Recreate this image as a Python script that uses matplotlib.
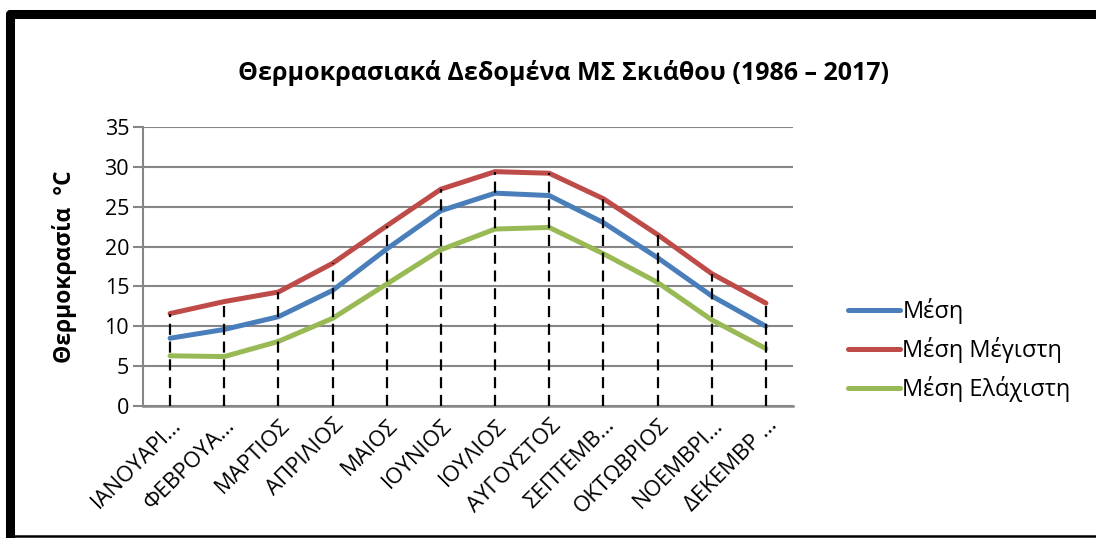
import matplotlib
matplotlib.use('Agg')
import matplotlib.pyplot as plt
from matplotlib.lines import Line2D
from matplotlib.transforms import ScaledTranslation

plt.rcParams['font.family'] = ['Open Sans', 'DejaVu Sans']

# monthly temperature data (deg C), Skiathos 1986-2017
months = ['ΙΑΝΟΥΑΡΙ…', 'ΦΕΒΡΟΥΑ…', 'ΜΑΡΤΙΟΣ', 'ΑΠΡΙΛΙΟΣ', 'ΜΑΙΟΣ', 'ΙΟΥΝΙΟΣ',
          'ΙΟΥΛΙΟΣ', 'ΑΥΓΟΥΣΤΟΣ', 'ΣΕΠΤΕΜΒ…', 'ΟΚΤΩΒΡΙΟΣ', 'ΝΟΕΜΒΡΙ…', 'ΔΕΚΕΜΒΡ …']
t_mean = [8.5, 9.6, 11.2, 14.5, 19.7, 24.5, 26.7, 26.4, 23.0, 18.6, 13.8, 10.0]
t_max = [11.6, 13.1, 14.3, 17.9, 22.6, 27.2, 29.4, 29.2, 26.0, 21.5, 16.6, 12.9]
t_min = [6.3, 6.2, 8.1, 11.0, 15.3, 19.6, 22.2, 22.4, 19.1, 15.5, 10.8, 7.2]
labels = ['Μέση', 'Μέση Μέγιστη', 'Μέση Ελάχιστη']
colors = ['#4A7EBB', '#BE4B48', '#98B954']

fig = plt.figure(figsize=(10.96, 5.38), dpi=100)
ax = fig.add_axes([143/1096, 1-406/538, 650/1096, 279/538])

x = list(range(len(months)))
for vals, lab, col in zip([t_mean, t_max, t_min], labels, colors):
    ax.plot(x, vals, color=col, lw=3.6, label=lab, solid_capstyle='round', zorder=3)

# drop lines from the highest series to the axis
ax.vlines(x, 0, t_max, colors='black', linestyles=(0, (5, 3)), lw=1.6, zorder=4)

ax.set_xlim(-0.5, len(months) - 0.5)
ax.set_ylim(0, 35)
ax.set_yticks(range(0, 36, 5))
ax.yaxis.grid(True, color='#868686', lw=1.5)
ax.set_axisbelow(True)
for s in ['top', 'right']:
    ax.spines[s].set_visible(False)
ax.spines['left'].set_color('#868686')
ax.spines['left'].set_linewidth(1.5)
ax.spines['bottom'].set_color('#868686')
ax.spines['bottom'].set_linewidth(1.8)
ax.tick_params(axis='y', length=7, width=1.5, color='#868686', labelsize=15.5, pad=3)
ax.tick_params(axis='x', length=0, labelsize=16, pad=6)
ax.set_xticks(x)
ax.set_xticklabels(months, rotation=45, ha='right', va='center', rotation_mode='anchor')
shift = ScaledTranslation(8/100, -8/100, fig.dpi_scale_trans)
for t in ax.get_xticklabels():
    t.set_transform(t.get_transform() + shift)

ax.set_ylabel('Θερμοκρασία  °C', fontsize=16.5, fontweight='bold', labelpad=20)
fig.text(563/1096, 1-73/538, 'Θερμοκρασιακά Δεδομένα ΜΣ Σκιάθου (1986 – 2017)',
         ha='center', va='center', fontsize=18, fontweight='bold')

ax.legend(loc='center left', bbox_to_anchor=(848/1096, 1-350/538), bbox_transform=fig.transFigure,
          frameon=False, fontsize=17, handlelength=2.2, handletextpad=0.1,
          labelspacing=0.55, borderaxespad=0, borderpad=0)

# outer frame
fig.add_artist(Line2D([9.5/1096, 9.5/1096], [0, 1-14/538], transform=fig.transFigure,
                      color='black', lw=6.5, solid_capstyle='round'))
fig.add_artist(Line2D([9.5/1096, 1.0], [1-14/538, 1-14/538], transform=fig.transFigure,
                      color='black', lw=6.5, solid_capstyle='round'))
fig.add_artist(Line2D([9.5/1096, 1.0], [1-536/538, 1-536/538], transform=fig.transFigure,
                      color='black', lw=1.8))

fig.savefig('out.png', dpi=100)
